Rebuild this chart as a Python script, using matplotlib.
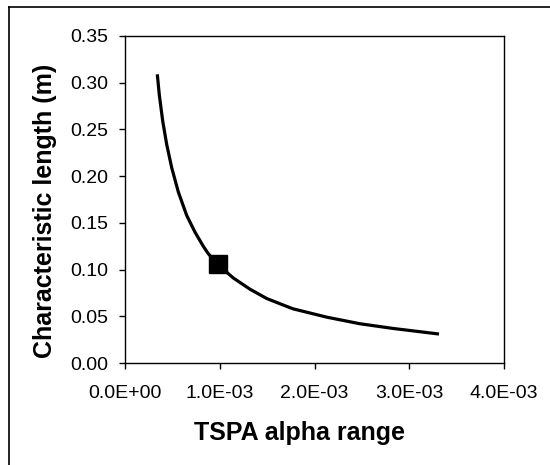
import matplotlib
matplotlib.use("Agg")
import matplotlib.pyplot as plt
from matplotlib.lines import Line2D

# Data
alpha = [3.41e-4, 3.62e-4, 3.98e-4, 4.40e-4, 4.93e-4, 5.63e-4, 6.51e-4, 7.39e-4,
         8.26e-4, 8.79e-4, 9.85e-4, 1.143e-3, 1.319e-3, 1.496e-3, 1.671e-3,
         1.773e-3, 2.132e-3, 2.480e-3, 2.828e-3, 3.314e-3]
length = [0.309, 0.287, 0.259, 0.234, 0.209, 0.183, 0.158, 0.140,
          0.125, 0.117, 0.105, 0.091, 0.079, 0.069, 0.062,
          0.058, 0.049, 0.042, 0.037, 0.031]
marker_alpha = [9.82e-4]
marker_length = [0.106]
xticks = [0.0, 1.0e-3, 2.0e-3, 3.0e-3, 4.0e-3]
xticklabels = ["0.0E+00", "1.0E-03", "2.0E-03", "3.0E-03", "4.0E-03"]
yticks = [0.00, 0.05, 0.10, 0.15, 0.20, 0.25, 0.30, 0.35]
yticklabels = ["0.00", "0.05", "0.10", "0.15", "0.20", "0.25", "0.30", "0.35"]

plt.rcParams['font.family'] = ['Liberation Sans', 'DejaVu Sans']

fig = plt.figure(figsize=(5.5, 4.65), dpi=100)
ax = fig.add_axes([125/550, 1-363/465, (504-125)/550, (363-36)/465])

ax.plot(alpha, length, color='black', lw=2.3, solid_joinstyle='round', solid_capstyle='butt')
ax.plot(marker_alpha, marker_length, marker='s', color='black', ms=13.5, ls='none')

ax.set_xlim(0, 4.0e-3)
ax.set_ylim(0, 0.35)
ax.set_xticks(xticks)
ax.set_xticklabels(xticklabels)
ax.set_yticks(yticks)
ax.set_yticklabels(yticklabels)
ax.tick_params(axis='both', direction='out', length=4, width=1, labelsize=14, colors='black')
ax.tick_params(axis='y', pad=8)
ax.tick_params(axis='x', pad=12)
for s in ax.spines.values():
    s.set_linewidth(1.0)
    s.set_color('black')

fig.text(300/550, 1-433/465, "TSPA alpha range", ha='center', va='center',
         fontsize=18, fontweight='bold')
fig.text(45/550, 1-211/465, "Characteristic length (m)", ha='center', va='center',
         rotation=90, fontsize=18, fontweight='bold')

# outer frame (top and left edges visible)
fig.add_artist(Line2D([9/550, 1.0], [1-7/465, 1-7/465], transform=fig.transFigure,
                      color='black', lw=1.2))
fig.add_artist(Line2D([9/550, 9/550], [0.0, 1-7/465], transform=fig.transFigure,
                      color='black', lw=1.2))

fig.savefig("out.png", dpi=100)
